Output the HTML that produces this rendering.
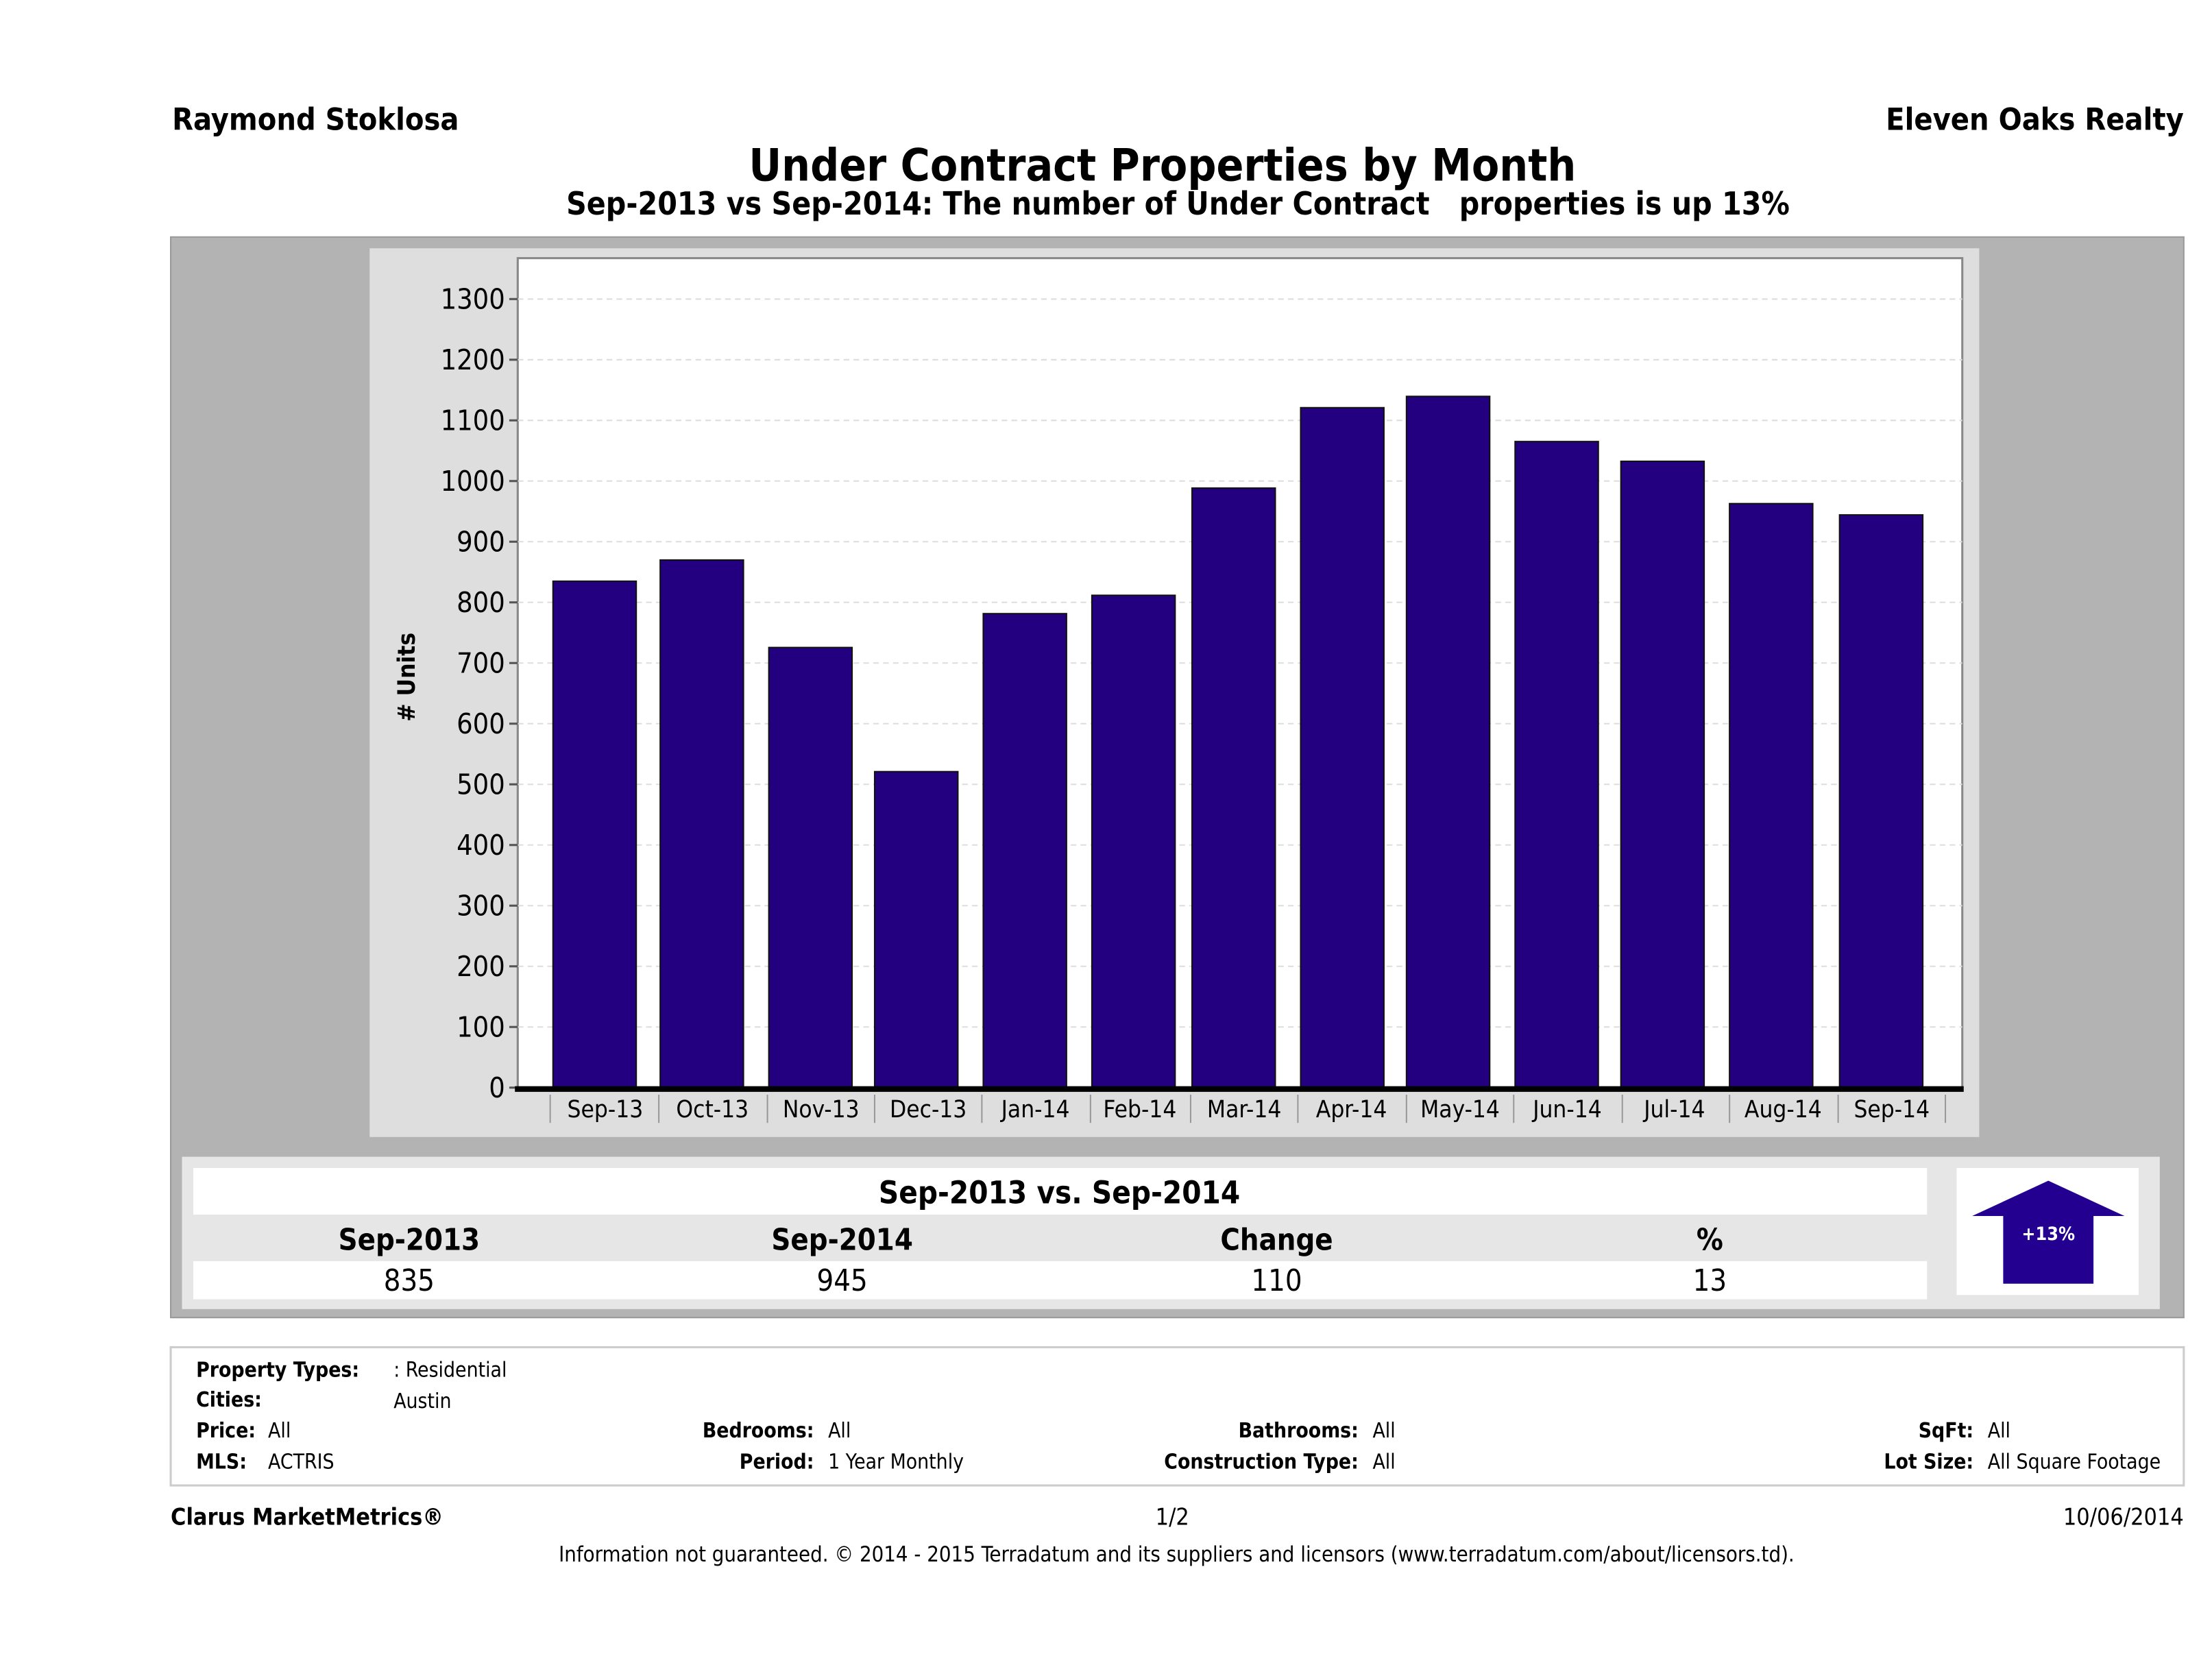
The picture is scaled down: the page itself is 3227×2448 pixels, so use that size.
<!DOCTYPE html>
<html><head><meta charset="utf-8"><style>
html,body{margin:0;padding:0;background:#fff;}
svg{display:block;}
text{font-family:"DejaVu Sans Condensed","DejaVu Sans","Liberation Sans",sans-serif;fill:#000;}
</style></head><body>
<svg width="3227" height="2448" viewBox="0 0 1568 1189.5" xmlns="http://www.w3.org/2000/svg">
<rect width="1568" height="1190" fill="#fff"/>
<text x="122" y="92" font-size="21.7" font-weight="bold">Raymond Stoklosa</text>
<text x="1548" y="92" font-size="21.7" font-weight="bold" text-anchor="end">Eleven Oaks Realty</text>
<text x="824" y="128" font-size="31.8" font-weight="bold" text-anchor="middle">Under Contract Properties by Month</text>
<text x="835" y="152" font-size="22.3" font-weight="bold" text-anchor="middle" xml:space="preserve">Sep-2013 vs Sep-2014: The number of Under Contract   properties is up 13%</text>
<rect x="121" y="168" width="1427" height="766" fill="#b3b3b3" stroke="#999" stroke-width="1"/>
<rect x="262" y="176" width="1141" height="630" fill="#dedede"/>
<rect x="367" y="183" width="1024" height="589" fill="#fff" stroke="#888" stroke-width="1.5"/>
<g stroke="#ddd" stroke-dasharray="4,3" stroke-width="1">
<line x1="367" x2="1391" y1="212" y2="212"/><line x1="367" x2="1391" y1="255" y2="255"/><line x1="367" x2="1391" y1="298" y2="298"/><line x1="367" x2="1391" y1="341" y2="341"/><line x1="367" x2="1391" y1="384" y2="384"/><line x1="367" x2="1391" y1="427" y2="427"/><line x1="367" x2="1391" y1="470" y2="470"/><line x1="367" x2="1391" y1="513" y2="513"/><line x1="367" x2="1391" y1="556" y2="556"/><line x1="367" x2="1391" y1="599" y2="599"/><line x1="367" x2="1391" y1="642" y2="642"/><line x1="367" x2="1391" y1="685" y2="685"/><line x1="367" x2="1391" y1="728" y2="728"/>
</g>
<g font-size="20" text-anchor="end">
<text x="358" y="219">1300</text><text x="358" y="262">1200</text><text x="358" y="305">1100</text><text x="358" y="348">1000</text><text x="358" y="391">900</text><text x="358" y="434">800</text><text x="358" y="477">700</text><text x="358" y="520">600</text><text x="358" y="563">500</text><text x="358" y="606">400</text><text x="358" y="649">300</text><text x="358" y="692">200</text><text x="358" y="735">100</text><text x="358" y="778">0</text>
</g>
<g stroke="#555" stroke-width="1.5">
<line x1="361" x2="367" y1="212" y2="212"/><line x1="361" x2="367" y1="255" y2="255"/><line x1="361" x2="367" y1="298" y2="298"/><line x1="361" x2="367" y1="341" y2="341"/><line x1="361" x2="367" y1="384" y2="384"/><line x1="361" x2="367" y1="427" y2="427"/><line x1="361" x2="367" y1="470" y2="470"/><line x1="361" x2="367" y1="513" y2="513"/><line x1="361" x2="367" y1="556" y2="556"/><line x1="361" x2="367" y1="599" y2="599"/><line x1="361" x2="367" y1="642" y2="642"/><line x1="361" x2="367" y1="685" y2="685"/><line x1="361" x2="367" y1="728" y2="728"/><line x1="361" x2="367" y1="771" y2="771"/>
</g>
<text transform="translate(294,480) rotate(-90)" font-size="17" font-weight="bold" text-anchor="middle"># Units</text>
<g fill="#230080" stroke="#111" stroke-width="1">
<rect x="392" y="412" width="59" height="359"/>
<rect x="468" y="397" width="59" height="374"/>
<rect x="545" y="459" width="59" height="312"/>
<rect x="620" y="547" width="59" height="224"/>
<rect x="697" y="435" width="59" height="336"/>
<rect x="774" y="422" width="59" height="349"/>
<rect x="845" y="346" width="59" height="425"/>
<rect x="922" y="289" width="59" height="482"/>
<rect x="997" y="281" width="59" height="490"/>
<rect x="1074" y="313" width="59" height="458"/>
<rect x="1149" y="327" width="59" height="444"/>
<rect x="1226" y="357" width="59" height="414"/>
<rect x="1304" y="365" width="59" height="406"/>
</g>
<line x1="365" x2="1392" y1="772" y2="772" stroke="#000" stroke-width="4"/>
<g stroke="#999" stroke-width="1">
<line x1="390" x2="390" y1="776" y2="796"/><line x1="467" x2="467" y1="776" y2="796"/><line x1="544" x2="544" y1="776" y2="796"/><line x1="620" x2="620" y1="776" y2="796"/><line x1="696" x2="696" y1="776" y2="796"/><line x1="773" x2="773" y1="776" y2="796"/><line x1="844" x2="844" y1="776" y2="796"/><line x1="920" x2="920" y1="776" y2="796"/><line x1="997" x2="997" y1="776" y2="796"/><line x1="1073" x2="1073" y1="776" y2="796"/><line x1="1150" x2="1150" y1="776" y2="796"/><line x1="1226" x2="1226" y1="776" y2="796"/><line x1="1303" x2="1303" y1="776" y2="796"/><line x1="1379" x2="1379" y1="776" y2="796"/>
</g>
<g font-size="17" text-anchor="middle">
<text x="429" y="792">Sep-13</text><text x="505" y="792">Oct-13</text><text x="582" y="792">Nov-13</text><text x="658" y="792">Dec-13</text><text x="734" y="792">Jan-14</text><text x="808" y="792">Feb-14</text><text x="882" y="792">Mar-14</text><text x="958" y="792">Apr-14</text><text x="1035" y="792">May-14</text><text x="1111" y="792">Jun-14</text><text x="1187" y="792">Jul-14</text><text x="1264" y="792">Aug-14</text><text x="1341" y="792">Sep-14</text>
</g>
<rect x="129" y="820" width="1402" height="108" fill="#e6e6e6"/>
<rect x="137" y="828" width="1229" height="33" fill="#fff"/>
<rect x="137" y="894" width="1229" height="27" fill="#fff"/>
<text x="751" y="853" font-size="22" font-weight="bold" text-anchor="middle">Sep-2013 vs. Sep-2014</text>
<g font-size="21" font-weight="bold" text-anchor="middle">
<text x="290" y="886">Sep-2013</text><text x="597" y="886">Sep-2014</text><text x="905" y="886">Change</text><text x="1212" y="886">%</text>
</g>
<g font-size="21" text-anchor="middle">
<text x="290" y="915">835</text><text x="597" y="915">945</text><text x="905" y="915">110</text><text x="1212" y="915">13</text>
</g>
<rect x="1387" y="828" width="129" height="90" fill="#fff"/>
<polygon points="1452,837 1506,862 1484,862 1484,910 1420,910 1420,862 1398,862" fill="#230090"/>
<text x="1452" y="879" font-size="13" font-weight="bold" text-anchor="middle" style="fill:#fff">+13%</text>
<rect x="121" y="955" width="1427" height="98" fill="#fff" stroke="#ccc" stroke-width="1.5"/>
<g font-size="14.5">
<text x="139" y="976" font-weight="bold">Property Types:</text><text x="279" y="976">: Residential</text>
<text x="139" y="997" font-weight="bold">Cities:</text><text x="279" y="998">Austin</text>
<text x="139" y="1019" font-weight="bold">Price:</text><text x="190" y="1019">All</text>
<text x="139" y="1041" font-weight="bold">MLS:</text><text x="190" y="1041">ACTRIS</text>
<text x="577" y="1019" font-weight="bold" text-anchor="end">Bedrooms:</text><text x="587" y="1019">All</text>
<text x="577" y="1041" font-weight="bold" text-anchor="end">Period:</text><text x="587" y="1041">1 Year Monthly</text>
<text x="963" y="1019" font-weight="bold" text-anchor="end">Bathrooms:</text><text x="973" y="1019">All</text>
<text x="963" y="1041" font-weight="bold" text-anchor="end">Construction Type:</text><text x="973" y="1041">All</text>
<text x="1399" y="1019" font-weight="bold" text-anchor="end">SqFt:</text><text x="1409" y="1019">All</text>
<text x="1399" y="1041" font-weight="bold" text-anchor="end">Lot Size:</text><text x="1409" y="1041">All Square Footage</text>
</g>
<text x="121" y="1081" font-size="16.5" font-weight="bold">Clarus MarketMetrics®</text>
<text x="831" y="1081" font-size="16.5" text-anchor="middle">1/2</text>
<text x="1548" y="1081" font-size="16.5" text-anchor="end">10/06/2014</text>
<text x="834" y="1107" font-size="15" text-anchor="middle">Information not guaranteed. © 2014 - 2015 Terradatum and its suppliers and licensors (www.terradatum.com/about/licensors.td).</text>
</svg>
</body></html>
